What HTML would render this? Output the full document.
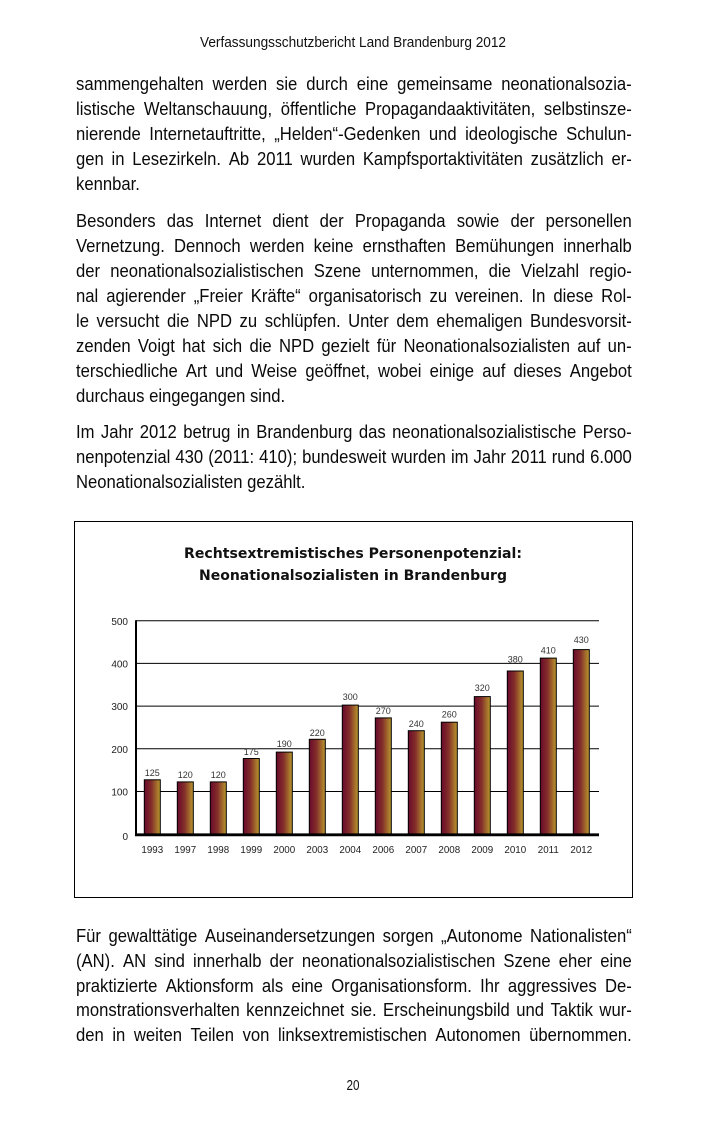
<!DOCTYPE html>
<html>
<head>
<meta charset="utf-8">
<style>
  html,body{margin:0;padding:0;background:#fff;}
  body{width:709px;height:1123px;position:relative;overflow:hidden;}
  .t{position:absolute;left:76px;width:621px;transform:scaleX(0.895);transform-origin:0 0;
     font-family:"Liberation Sans",Arial,sans-serif;font-size:18.6px;line-height:25px;color:#0a0a0a;
     white-space:nowrap;}
  .j{display:flex;justify-content:space-between;}
  svg{position:absolute;left:0;top:0;}
</style>
</head>
<body>

<div class="t j" style="top:71px"><span>sammengehalten</span><span>werden</span><span>sie</span><span>durch</span><span>eine</span><span>gemeinsame</span><span>neonationalsozia-</span></div>
<div class="t j" style="top:96px"><span>listische</span><span>Weltanschauung,</span><span>öffentliche</span><span>Propagandaaktivitäten,</span><span>selbstinsze-</span></div>
<div class="t j" style="top:121px"><span>nierende</span><span>Internetauftritte,</span><span>„Helden“-Gedenken</span><span>und</span><span>ideologische</span><span>Schulun-</span></div>
<div class="t j" style="top:146px"><span>gen</span><span>in</span><span>Lesezirkeln.</span><span>Ab</span><span>2011</span><span>wurden</span><span>Kampfsportaktivitäten</span><span>zusätzlich</span><span>er-</span></div>
<div class="t" style="top:171px">kennbar.</div>

<div class="t j" style="top:208px"><span>Besonders</span><span>das</span><span>Internet</span><span>dient</span><span>der</span><span>Propaganda</span><span>sowie</span><span>der</span><span>personellen</span></div>
<div class="t j" style="top:233px"><span>Vernetzung.</span><span>Dennoch</span><span>werden</span><span>keine</span><span>ernsthaften</span><span>Bemühungen</span><span>innerhalb</span></div>
<div class="t j" style="top:258px"><span>der</span><span>neonationalsozialistischen</span><span>Szene</span><span>unternommen,</span><span>die</span><span>Vielzahl</span><span>regio-</span></div>
<div class="t j" style="top:283px"><span>nal</span><span>agierender</span><span>„Freier</span><span>Kräfte“</span><span>organisatorisch</span><span>zu</span><span>vereinen.</span><span>In</span><span>diese</span><span>Rol-</span></div>
<div class="t j" style="top:308px"><span>le</span><span>versucht</span><span>die</span><span>NPD</span><span>zu</span><span>schlüpfen.</span><span>Unter</span><span>dem</span><span>ehemaligen</span><span>Bundesvorsit-</span></div>
<div class="t j" style="top:333px"><span>zenden</span><span>Voigt</span><span>hat</span><span>sich</span><span>die</span><span>NPD</span><span>gezielt</span><span>für</span><span>Neonationalsozialisten</span><span>auf</span><span>un-</span></div>
<div class="t j" style="top:358px"><span>terschiedliche</span><span>Art</span><span>und</span><span>Weise</span><span>geöffnet,</span><span>wobei</span><span>einige</span><span>auf</span><span>dieses</span><span>Angebot</span></div>
<div class="t" style="top:383px">durchaus eingegangen sind.</div>

<div class="t j" style="top:419px"><span>Im</span><span>Jahr</span><span>2012</span><span>betrug</span><span>in</span><span>Brandenburg</span><span>das</span><span>neonationalsozialistische</span><span>Perso-</span></div>
<div class="t j" style="top:444px"><span>nenpotenzial</span><span>430</span><span>(2011:</span><span>410);</span><span>bundesweit</span><span>wurden</span><span>im</span><span>Jahr</span><span>2011</span><span>rund</span><span>6.000</span></div>
<div class="t" style="top:469px">Neonationalsozialisten gezählt.</div>

<div class="t j" style="top:923px"><span>Für</span><span>gewalttätige</span><span>Auseinandersetzungen</span><span>sorgen</span><span>„Autonome</span><span>Nationalisten“</span></div>
<div class="t j" style="top:947.75px"><span>(AN).</span><span>AN</span><span>sind</span><span>innerhalb</span><span>der</span><span>neonationalsozialistischen</span><span>Szene</span><span>eher</span><span>eine</span></div>
<div class="t j" style="top:972.5px"><span>praktizierte</span><span>Aktionsform</span><span>als</span><span>eine</span><span>Organisationsform.</span><span>Ihr</span><span>aggressives</span><span>De-</span></div>
<div class="t j" style="top:997.25px"><span>monstrationsverhalten</span><span>kennzeichnet</span><span>sie.</span><span>Erscheinungsbild</span><span>und</span><span>Taktik</span><span>wur-</span></div>
<div class="t j" style="top:1022px"><span>den</span><span>in</span><span>weiten</span><span>Teilen</span><span>von</span><span>linksextremistischen</span><span>Autonomen</span><span>übernommen.</span></div>

<svg width="709" height="1123" viewBox="0 0 709 1123" xmlns="http://www.w3.org/2000/svg">
  <defs>
    <linearGradient id="bg" x1="0" y1="0" x2="1" y2="0">
      <stop offset="0" stop-color="#680a2c"/>
      <stop offset="0.45" stop-color="#842e2a"/>
      <stop offset="1" stop-color="#b8992c"/>
    </linearGradient>
  </defs>

  <!-- header & page number -->
  <text x="353" y="47" text-anchor="middle" font-family="Liberation Sans, Arial, sans-serif" font-size="14.5" fill="#111" textLength="306" lengthAdjust="spacingAndGlyphs">Verfassungsschutzbericht Land Brandenburg 2012</text>
  <text x="353" y="1090" text-anchor="middle" font-family="Liberation Sans, Arial, sans-serif" font-size="14.5" fill="#111" textLength="13" lengthAdjust="spacingAndGlyphs">20</text>

  <!-- chart frame -->
  <rect x="74.5" y="521.5" width="558" height="376" fill="#fff" stroke="#000" stroke-width="1"/>

  <!-- title -->
  <g font-family="DejaVu Sans, Liberation Sans, sans-serif" font-weight="bold" font-size="13.8" fill="#111" text-anchor="middle">
    <text x="353" y="558" textLength="338" lengthAdjust="spacingAndGlyphs">Rechtsextremistisches Personenpotenzial:</text>
    <text x="353" y="580" textLength="308" lengthAdjust="spacingAndGlyphs">Neonationalsozialisten in Brandenburg</text>
  </g>

  <!-- gridlines -->
  <g stroke="#000" stroke-width="1">
    <line x1="136" y1="620.7" x2="599" y2="620.7"/>
    <line x1="136" y1="663.4" x2="599" y2="663.4"/>
    <line x1="136" y1="706.1" x2="599" y2="706.1"/>
    <line x1="136" y1="748.8" x2="599" y2="748.8"/>
    <line x1="136" y1="791.5" x2="599" y2="791.5"/>
  </g>

  <!-- y labels -->
  <g font-family="Liberation Sans, Arial, sans-serif" font-size="10" fill="#222" text-anchor="end">
    <text x="128" y="625">500</text>
    <text x="128" y="667.5">400</text>
    <text x="128" y="710">300</text>
    <text x="128" y="753">200</text>
    <text x="128" y="795.5">100</text>
    <text x="128" y="840">0</text>
  </g>

  <!-- bars -->
  <g stroke="#000" stroke-width="1" fill="url(#bg)">
    <rect x="144.3" y="779.8" width="16" height="54.2"/>
    <rect x="177.3" y="781.9" width="16" height="52.1"/>
    <rect x="210.3" y="781.9" width="16" height="52.1"/>
    <rect x="243.3" y="758.5" width="16" height="75.5"/>
    <rect x="276.3" y="752.1" width="16" height="81.9"/>
    <rect x="309.3" y="739.3" width="16" height="94.7"/>
    <rect x="342.3" y="705.1" width="16" height="128.9"/>
    <rect x="375.3" y="717.9" width="16" height="116.1"/>
    <rect x="408.3" y="730.7" width="16" height="103.3"/>
    <rect x="441.3" y="722.2" width="16" height="111.8"/>
    <rect x="474.3" y="696.6" width="16" height="137.4"/>
    <rect x="507.3" y="671.0" width="16" height="163.0"/>
    <rect x="540.3" y="658.1" width="16" height="175.9"/>
    <rect x="573.3" y="649.6" width="16" height="184.4"/>
  </g>

  <!-- axes -->
  <line x1="136" y1="620.2" x2="136" y2="836" stroke="#000" stroke-width="2"/>
  <line x1="135" y1="834.8" x2="599" y2="834.8" stroke="#000" stroke-width="2.8"/>

  <!-- value labels -->
  <g font-family="Liberation Sans, Arial, sans-serif" font-size="9" fill="#333" text-anchor="middle">
    <text x="152.3" y="776">125</text>
    <text x="185.3" y="778">120</text>
    <text x="218.3" y="778">120</text>
    <text x="251.3" y="755">175</text>
    <text x="284.3" y="747">190</text>
    <text x="317.3" y="736">220</text>
    <text x="350.3" y="700">300</text>
    <text x="383.3" y="714">270</text>
    <text x="416.3" y="727">240</text>
    <text x="449.3" y="717.5">260</text>
    <text x="482.3" y="691">320</text>
    <text x="515.3" y="662.5">380</text>
    <text x="548.3" y="653.5">410</text>
    <text x="581.3" y="643">430</text>
  </g>

  <!-- x labels -->
  <g font-family="Liberation Sans, Arial, sans-serif" font-size="9.8" fill="#222" text-anchor="middle">
    <text x="152.3" y="853">1993</text>
    <text x="185.3" y="853">1997</text>
    <text x="218.3" y="853">1998</text>
    <text x="251.3" y="853">1999</text>
    <text x="284.3" y="853">2000</text>
    <text x="317.3" y="853">2003</text>
    <text x="350.3" y="853">2004</text>
    <text x="383.3" y="853">2006</text>
    <text x="416.3" y="853">2007</text>
    <text x="449.3" y="853">2008</text>
    <text x="482.3" y="853">2009</text>
    <text x="515.3" y="853">2010</text>
    <text x="548.3" y="853">2011</text>
    <text x="581.3" y="853">2012</text>
  </g>
</svg>

</body>
</html>
